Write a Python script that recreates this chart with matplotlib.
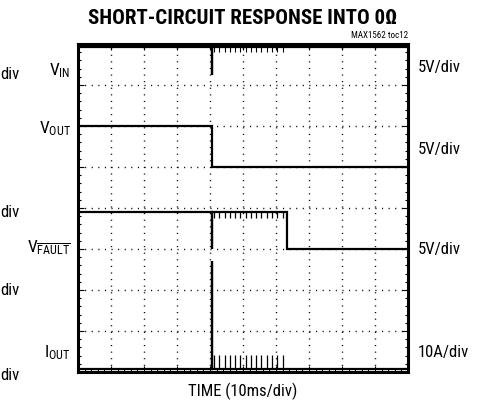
import matplotlib
matplotlib.use("Agg")
import matplotlib.pyplot as plt
from matplotlib.ticker import MultipleLocator

plt.rcParams['font.family'] = ['Roboto Condensed', 'DejaVu Sans']
plt.rcParams['mathtext.fontset'] = 'custom'
plt.rcParams['mathtext.rm'] = 'Roboto Condensed'

# scope screen: 10 x 8 divisions, y counted upward from bottom (div)
t_short = 4.05      # short applied
t_fault = 6.32      # FAULT goes low

vin_t = [0, t_short, t_short, t_short, 10]
vin_v = [7.93, 7.93, 7.25, 7.93, 7.93]

vout_t = [0, t_short, t_short, 10]
vout_v = [6.0, 6.0, 5.0, 5.0]

vfault_t = [0, t_short, t_short, t_short, t_fault, t_fault, 10]
vfault_v = [3.9, 3.9, 3.0, 3.9, 3.9, 3.0, 3.0]

iout_t = [0, t_short, t_short, t_short, 10]
iout_v = [0.08, 0.08, 2.7, 0.08, 0.08]

# current-limit pulses during the fault blanking window
pulse_t = [4.12, 4.28, 4.44, 4.60, 4.76, 4.92, 5.08, 5.24,
           5.40, 5.56, 5.72, 5.88, 6.04, 6.20]
pulse_top = 0.42
vfault_ripple = 3.76
vin_ripple = 7.8

left_labels = [r'$\mathregular{V_{IN}}$', r'$\mathregular{V_{OUT}}$',
               r'$\mathregular{V_{\overline{FAULT}}}$', r'$\mathregular{I_{OUT}}$']
left_y = [7.38, 5.95, 3.05, 0.5]
right_labels = ['5V/div', '5V/div', '5V/div', '10A/div']
right_y = [7.45, 5.45, 3.02, 0.5]
cut_y = [75, 213, 291, 376]   # "div" scraps of the neighbouring plot (pixels from top)

fig = plt.figure(figsize=(4.82, 4.06), dpi=100)
W, H = 482, 406
ax = fig.add_axes([78 / W, 1 - 373 / H, 330 / W, 328 / H])

lw = 1.6
for t, v in [(vin_t, vin_v), (vout_t, vout_v), (vfault_t, vfault_v), (iout_t, iout_v)]:
    ax.plot(t, v, color='black', lw=lw, solid_joinstyle='miter')
ax.vlines(pulse_t, 0.08, pulse_top, color='black', lw=0.9)
ax.vlines(pulse_t, vfault_ripple, 3.9, color='black', lw=0.9)
ax.vlines(pulse_t, vin_ripple, 7.93, color='black', lw=0.8)

ax.set_xlim(0, 10)
ax.set_ylim(0, 8)
ax.xaxis.set_major_locator(MultipleLocator(1))
ax.yaxis.set_major_locator(MultipleLocator(1))
ax.xaxis.set_minor_locator(MultipleLocator(0.2))
ax.yaxis.set_minor_locator(MultipleLocator(0.2))
ax.tick_params(which='both', direction='in', top=True, right=True,
               labelbottom=False, labelleft=False, width=0.8, color='black')
ax.tick_params(which='major', length=4)
ax.tick_params(which='minor', length=2.5)
ax.grid(True, which='major', color='black', lw=1.0, linestyle=(0, (0.8, 3.95)))
for s in ax.spines.values():
    s.set_linewidth(2.2)

fig.text(243 / W, 1 - 18 / H, 'SHORT-CIRCUIT RESPONSE INTO 0Ω',
         ha='center', va='center', fontsize=15, fontweight='bold')
fig.text(408 / W, 1 - 35 / H, 'MAX1562 toc12', ha='right', va='center', fontsize=6.5)
fig.text(243 / W, 1 - 391 / H, 'TIME (10ms/div)', ha='center', va='center', fontsize=12)

for lab, y in zip(left_labels, left_y):
    ax.text(-0.22, y, lab, ha='right', va='center', fontsize=12.5, clip_on=False)
for lab, y in zip(right_labels, right_y):
    ax.text(10.3, y, lab, ha='left', va='center', fontsize=12, clip_on=False)
for y in cut_y:
    fig.text(0, 1 - y / H, 'div', ha='left', va='center', fontsize=12)

fig.savefig('out.png', dpi=100)
